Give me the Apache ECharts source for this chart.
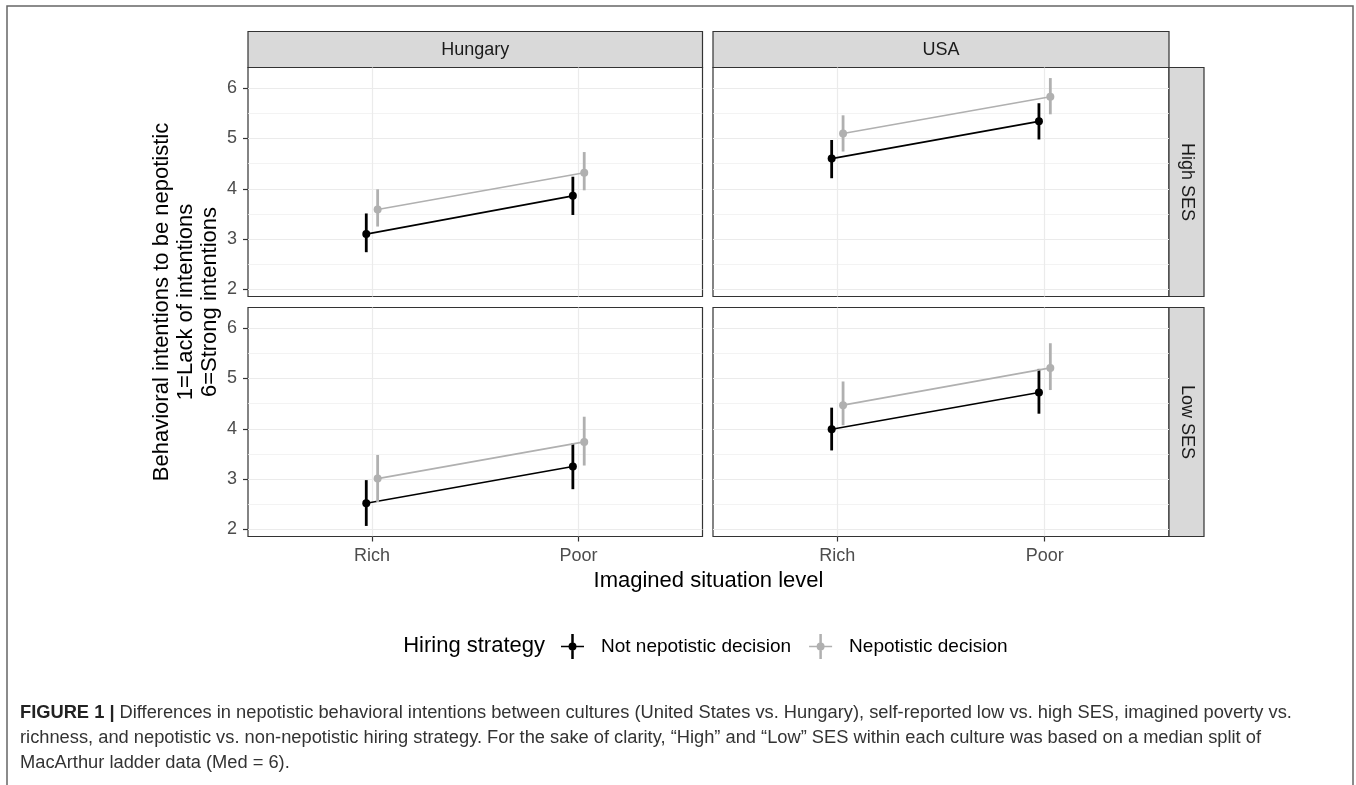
<!DOCTYPE html>
<html>
<head>
<meta charset="utf-8">
<script src="https://cdn.jsdelivr.net/npm/echarts@6/dist/echarts.min.js"></script>
<style>
  html, body { margin: 0; padding: 0; background: #fff; }
  #chart { width: 1356px; height: 785px; }
</style>
</head>
<body>
<div id="chart"></div>
<script>
const categories = ['Rich', 'Poor']
const cultures = ['Hungary', 'USA']
const sesLevels = ['High SES', 'Low SES']
const strategies = ['Not nepotistic decision', 'Nepotistic decision']
const yTicks = [2, 3, 4, 5, 6]
const yMinor = [2.5, 3.5, 4.5, 5.5]

// [mean, lower, upper] for Rich, Poor
const hungaryHighNot = [[3.10, 2.74, 3.51], [3.86, 3.48, 4.24]]
const hungaryHighNep = [[3.59, 3.25, 3.99], [4.32, 3.97, 4.73]]
const usaHighNot = [[4.60, 4.21, 4.97], [5.34, 4.98, 5.70]]
const usaHighNep = [[5.10, 4.74, 5.46], [5.83, 5.48, 6.20]]
const hungaryLowNot = [[2.52, 2.07, 2.98], [3.25, 2.80, 3.71]]
const hungaryLowNep = [[3.01, 2.54, 3.48], [3.74, 3.27, 4.24]]
const usaLowNot = [[3.99, 3.57, 4.42], [4.72, 4.30, 5.19]]
const usaLowNep = [[4.47, 4.07, 4.94], [5.21, 4.77, 5.70]]

const panels = [
  { col: 0, row: 0, groups: [hungaryHighNot, hungaryHighNep] },
  { col: 1, row: 0, groups: [usaHighNot, usaHighNep] },
  { col: 0, row: 1, groups: [hungaryLowNot, hungaryLowNep] },
  { col: 1, row: 1, groups: [usaLowNot, usaLowNep] }
]

const font = 'Liberation Sans, Arial, sans-serif'
const colors = ['#000000', '#b0b0b0']
const dodge = [-0.0275, 0.0275]
const colLeft = [248, 713]
const colWidth = [454.5, 456]
const rowTop = [67.5, 307.5]
const rowHeight = 229
const yMin = 1.86
const yMax = 6.41

const tickStyle = { color: '#333', width: 1.2 }
const legendIcon = 'path://M10.25,0H12.75V25H10.25Z M0,11.75H23V13.25H0Z ' +
  'M7.5,12.5A4,4 0 1,1 15.5,12.5A4,4 0 1,1 7.5,12.5Z'

function renderErrorBar (params, api) {
  const top = api.coord([api.value(0), api.value(2)])
  const bottom = api.coord([api.value(0), api.value(1)])
  return {
    type: 'line',
    shape: { x1: top[0], y1: top[1], x2: bottom[0], y2: bottom[1] },
    style: { stroke: api.visual('color'), lineWidth: 2.8 }
  }
}

const grid = panels.map(p => ({
  left: colLeft[p.col],
  top: rowTop[p.row],
  width: colWidth[p.col],
  height: rowHeight,
  show: true,
  backgroundColor: '#fff',
  borderColor: '#333',
  borderWidth: 1.2
}))

const xAxis = panels.map((p, i) => ({
  gridIndex: i,
  type: 'value',
  min: 0.4,
  max: 2.6,
  axisLine: { show: false },
  axisTick: { show: p.row === 1, customValues: [1, 2], length: 5, lineStyle: tickStyle },
  axisLabel: {
    show: p.row === 1,
    customValues: [1, 2],
    formatter: v => categories[Math.round(v) - 1],
    color: '#4d4d4d',
    fontSize: 18,
    fontFamily: font,
    margin: 11
  },
  splitLine: { show: true, lineStyle: { color: '#ebebeb', width: 1.2 } }
}))

const yAxis = []
panels.forEach((p, i) => {
  yAxis.push({
    gridIndex: i,
    type: 'value',
    min: yMin,
    max: yMax,
    position: 'left',
    axisLine: { show: false },
    axisTick: { show: p.col === 0, customValues: yTicks, length: 5, lineStyle: tickStyle },
    axisLabel: {
      show: p.col === 0,
      customValues: yTicks,
      color: '#4d4d4d',
      fontSize: 18,
      fontFamily: font,
      margin: 11
    },
    splitLine: { show: true, lineStyle: { color: '#ebebeb', width: 1.2 } }
  })
  // minor grid lines
  yAxis.push({
    gridIndex: i,
    type: 'value',
    min: yMin,
    max: yMax,
    position: 'right',
    axisLine: { show: false },
    axisTick: { show: false, customValues: yMinor },
    axisLabel: { show: false, customValues: yMinor },
    splitLine: { show: true, lineStyle: { color: '#f0f0f0', width: 0.8 } }
  })
})

const series = []
panels.forEach((p, i) => {
  p.groups.forEach((vals, s) => {
    series.push({
      type: 'line',
      name: strategies[s],
      xAxisIndex: i,
      yAxisIndex: 2 * i,
      data: vals.map((v, k) => [k + 1 + dodge[s], v[0]]),
      symbol: 'circle',
      symbolSize: 8,
      color: colors[s],
      itemStyle: { color: colors[s] },
      lineStyle: { color: colors[s], width: 1.6 },
      z: 4 + 2 * s,
      animation: false
    })
    series.push({
      type: 'custom',
      name: strategies[s],
      xAxisIndex: i,
      yAxisIndex: 2 * i,
      data: vals.map((v, k) => [k + 1 + dodge[s], v[1], v[2]]),
      encode: { x: 0, y: [1, 2] },
      itemStyle: { color: colors[s] },
      renderItem: renderErrorBar,
      z: 3 + 2 * s,
      animation: false
    })
  })
})

const graphic = [
  {
    type: 'rect',
    shape: { x: 7, y: 6, width: 1346, height: 800 },
    style: { fill: 'none', stroke: '#666', lineWidth: 1.5 },
    silent: true
  }
]
cultures.forEach((c, col) => {
  graphic.push({
    type: 'rect',
    shape: { x: colLeft[col], y: 31.5, width: colWidth[col], height: 36 },
    style: { fill: '#d9d9d9', stroke: '#333', lineWidth: 1.2 }
  })
  graphic.push({
    type: 'text',
    x: colLeft[col] + colWidth[col] / 2,
    y: 50,
    style: { text: c, align: 'center', verticalAlign: 'middle', fill: '#1a1a1a', fontSize: 18, fontFamily: font }
  })
})
sesLevels.forEach((s, row) => {
  graphic.push({
    type: 'rect',
    shape: { x: 1169, y: rowTop[row], width: 35, height: rowHeight },
    style: { fill: '#d9d9d9', stroke: '#333', lineWidth: 1.2 }
  })
  graphic.push({
    type: 'text',
    x: 1186.5,
    y: rowTop[row] + rowHeight / 2,
    rotation: -Math.PI / 2,
    style: { text: s, align: 'center', verticalAlign: 'middle', fill: '#1a1a1a', fontSize: 18, fontFamily: font }
  })
})
graphic.push({
  type: 'text',
  x: 186,
  y: 302,
  rotation: Math.PI / 2,
  style: {
    text: 'Behavioral intentions to be nepotistic\n1=Lack of intentions\n6=Strong intentions',
    align: 'center',
    verticalAlign: 'middle',
    fill: '#000',
    fontSize: 22,
    lineHeight: 24,
    fontFamily: font
  }
})
graphic.push({
  type: 'text',
  x: 708.5,
  y: 581,
  style: { text: 'Imagined situation level', align: 'center', verticalAlign: 'middle', fill: '#000', fontSize: 22, fontFamily: font }
})
graphic.push({
  type: 'text',
  x: 545,
  y: 646,
  style: { text: 'Hiring strategy', align: 'right', verticalAlign: 'middle', fill: '#000', fontSize: 22, fontFamily: font }
})
const captionLines = [
  '{b|FIGURE 1 |} Differences in nepotistic behavioral intentions between cultures (United States vs. Hungary), self-reported low vs. high SES, imagined poverty vs.',
  'richness, and nepotistic vs. non-nepotistic hiring strategy. For the sake of clarity, \u201cHigh\u201d and \u201cLow\u201d SES within each culture was based on a median split of',
  'MacArthur ladder data (Med = 6).'
]
captionLines.forEach((line, k) => {
  graphic.push({
    type: 'text',
    x: 20,
    y: 713 + 25 * k,
    style: {
      text: line,
      align: 'left',
      verticalAlign: 'middle',
      fill: '#333',
      fontSize: 18.3,
      fontFamily: font,
      rich: { b: { fontWeight: 'bold', fill: '#222', fontSize: 18.3, fontFamily: font } }
    }
  })
})

const chart = echarts.init(document.getElementById('chart'))
chart.setOption({
  backgroundColor: '#fff',
  animation: false,
  grid: grid,
  xAxis: xAxis,
  yAxis: yAxis,
  legend: {
    left: 556,
    top: 629,
    icon: legendIcon,
    itemWidth: 23,
    itemHeight: 25,
    itemGap: 18,
    selectedMode: false,
    data: strategies,
    textStyle: { fontSize: 19, color: '#000', fontFamily: font, padding: [0, 0, 0, 12] }
  },
  graphic: graphic,
  series: series
})
</script>
</body>
</html>
